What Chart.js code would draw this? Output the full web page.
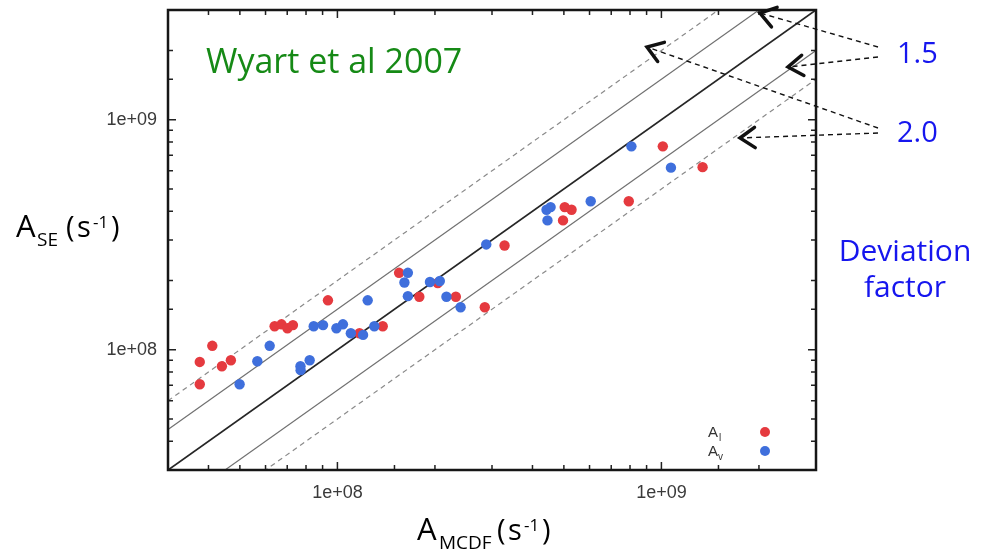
<!DOCTYPE html>
<html>
<head>
<meta charset="utf-8">
<script src="https://cdn.jsdelivr.net/npm/chart.js@4.4.1/dist/chart.umd.min.js"></script>
<style>
  html, body { margin: 0; padding: 0; background: #fff; }
  #wrap { width: 990px; height: 554px; position: relative; }
</style>
</head>
<body>
<div id="wrap"><canvas id="chart"></canvas></div>
<script>
// axis ranges (log scale) and labelled ticks
const xRange = [3e7, 3e9];
const yRange = [3e7, 3e9];
const tickValues = [1e8, 1e9];
const tickLabels = ['1e+08', '1e+09'];

// A_l (red)
const redX = [3.76e7, 4.11e7, 3.76e7, 4.40e7, 4.69e7, 6.40e7, 6.72e7, 7.01e7, 7.29e7, 9.35e7, 1.17e8, 1.38e8,
  1.55e8, 1.79e8, 2.04e8, 2.32e8, 2.85e8, 3.28e8, 5.03e8, 5.28e8, 4.97e8, 7.93e8, 1.01e9, 1.34e9];
const redY = [8.85e7, 1.04e8, 7.08e7, 8.48e7, 9.00e7, 1.265e8, 1.29e8, 1.24e8, 1.28e8, 1.64e8, 1.18e8, 1.265e8,
  2.16e8, 1.70e8, 1.95e8, 1.70e8, 1.53e8, 2.84e8, 4.17e8, 4.06e8, 3.65e8, 4.42e8, 7.66e8, 6.22e8];

// A_v (blue)
const blueX = [4.99e7, 5.66e7, 6.18e7, 7.69e7, 7.70e7, 8.21e7, 8.45e7, 9.03e7, 9.93e7, 1.04e8, 1.10e8, 1.20e8,
  1.24e8, 1.30e8, 1.65e8, 1.61e8, 1.65e8, 1.93e8, 2.07e8, 2.17e8, 2.40e8, 2.88e8, 4.42e8, 4.55e8, 4.45e8,
  6.05e8, 8.08e8, 1.07e9];
const blueY = [7.08e7, 8.91e7, 1.04e8, 8.48e7, 8.15e7, 9.00e7, 1.265e8, 1.28e8, 1.24e8, 1.29e8, 1.18e8, 1.16e8,
  1.64e8, 1.265e8, 2.16e8, 1.96e8, 1.71e8, 1.97e8, 1.99e8, 1.70e8, 1.53e8, 2.87e8, 4.06e8, 4.17e8, 3.65e8,
  4.42e8, 7.66e8, 6.19e8];

// deviation factor lines y = f * x
const factors = [2, 1.5, 1, 1 / 1.5, 0.5];

const RED = '#e53a3f';
const BLUE = '#3f6fdc';
const COMIC = '"Comic Sans MS", "Open Sans", sans-serif';

const zip = (xs, ys) => xs.map((x, i) => ({ x, y: ys[i] }));

const lineSets = factors.map(f => {
  const dashed = f === 2 || f === 0.5;
  const center = f === 1;
  return {
    data: xRange.map(x => ({ x, y: x * f })),
    showLine: true,
    pointRadius: 0,
    borderColor: center ? '#262626' : dashed ? '#8a8a8a' : '#707070',
    borderWidth: center ? 1.8 : 1.2,
    borderDash: dashed ? [5, 4] : [],
    order: 2
  };
});

function isMajor(v) {
  const l = Math.log10(v);
  return Math.abs(l - Math.round(l)) < 1e-6;
}

function tickLabel(v) {
  const i = tickValues.findIndex(t => Math.abs(v / t - 1) < 1e-6);
  return i >= 0 ? tickLabels[i] : '';
}

function arrow(ctx, fx, fy, tx, ty) {
  ctx.save();
  ctx.strokeStyle = '#111';
  ctx.lineWidth = 1.4;
  ctx.setLineDash([5, 4]);
  ctx.beginPath();
  ctx.moveTo(fx, fy);
  ctx.lineTo(tx, ty);
  ctx.stroke();
  ctx.setLineDash([]);
  const a = Math.atan2(fy - ty, fx - tx);
  ctx.lineWidth = 3.5;
  ctx.lineCap = 'round';
  ctx.beginPath();
  ctx.moveTo(tx + 18 * Math.cos(a - 0.6), ty + 18 * Math.sin(a - 0.6));
  ctx.lineTo(tx, ty);
  ctx.lineTo(tx + 18 * Math.cos(a + 0.6), ty + 18 * Math.sin(a + 0.6));
  ctx.stroke();
  ctx.restore();
}

const decor = {
  id: 'decor',
  afterDraw(chart) {
    const { ctx, chartArea: ca, scales } = chart;
    ctx.save();

    // inward ticks on all four sides
    ctx.strokeStyle = '#222';
    ctx.lineWidth = 1.5;
    scales.x.ticks.forEach(t => {
      if (t.value <= xRange[0] || t.value >= xRange[1]) return;
      const px = scales.x.getPixelForValue(t.value);
      const len = isMajor(t.value) ? 8 : 5;
      ctx.beginPath();
      ctx.moveTo(px, ca.bottom); ctx.lineTo(px, ca.bottom - len);
      ctx.moveTo(px, ca.top); ctx.lineTo(px, ca.top + len);
      ctx.stroke();
    });
    scales.y.ticks.forEach(t => {
      if (t.value <= yRange[0] || t.value >= yRange[1]) return;
      const py = scales.y.getPixelForValue(t.value);
      const len = isMajor(t.value) ? 8 : 5;
      ctx.beginPath();
      ctx.moveTo(ca.left, py); ctx.lineTo(ca.left + len, py);
      ctx.moveTo(ca.right, py); ctx.lineTo(ca.right - len, py);
      ctx.stroke();
    });

    // frame
    ctx.strokeStyle = '#161616';
    ctx.lineWidth = 2.5;
    ctx.strokeRect(ca.left, ca.top, ca.right - ca.left, ca.bottom - ca.top);

    // legend inside the plot
    ctx.fillStyle = '#333';
    ctx.textBaseline = 'alphabetic';
    ctx.textAlign = 'left';
    const lx = ca.right - 108, ly = ca.bottom - 33;
    ctx.font = '15px "Liberation Sans", sans-serif';
    ctx.fillText('A', lx, ly);
    ctx.fillText('A', lx, ly + 19);
    ctx.font = '10px "Liberation Sans", sans-serif';
    ctx.fillText('l', lx + 11, ly + 4);
    ctx.fillText('v', lx + 10, ly + 23);
    [[RED, ly - 5], [BLUE, ly + 14]].forEach(([c, y]) => {
      ctx.fillStyle = c;
      ctx.beginPath();
      ctx.arc(ca.right - 51, y, 5, 0, Math.PI * 2);
      ctx.fill();
    });

    // source label
    ctx.fillStyle = '#168a16';
    ctx.font = '34px ' + COMIC;
    ctx.fillText('Wyart et al 2007', 206, 73);

    // deviation factor annotations
    ctx.fillStyle = '#1616ee';
    ctx.font = '29px ' + COMIC;
    ctx.fillText('1.5', 897, 63);
    ctx.fillText('2.0', 897, 142);
    ctx.textAlign = 'center';
    ctx.font = '30px ' + COMIC;
    ctx.fillText('Deviation', 905, 261);
    ctx.fillText('factor', 905, 297);
    ctx.textAlign = 'left';

    arrow(ctx, 878, 47, 760, 13);
    arrow(ctx, 878, 57, 788, 67);
    arrow(ctx, 878, 128, 647, 47);
    arrow(ctx, 878, 133, 740, 138);

    // axis titles with sub/superscripts
    ctx.fillStyle = '#000';
    const title = (x, y, parts) => {
      parts.forEach(([txt, dx, dy, size]) => {
        ctx.font = size + 'px ' + COMIC;
        ctx.fillText(txt, x + dx, y + dy);
      });
    };
    title(16, 237, [['A', 0, 0, 31], ['SE', 21, 9, 19], ['(', 50, 0, 29], ['s', 61, 0, 29], ['-1', 77, -9, 17], [')', 95, 0, 29]]);
    title(417, 540, [['A', 0, 0, 31], ['MCDF', 22, 9, 19], ['(', 80, 0, 29], ['s', 91, 0, 29], ['-1', 107, -9, 17], [')', 125, 0, 29]]);

    ctx.restore();
  }
};

const tickFont = { family: '"Liberation Sans", Arial, sans-serif', size: 18 };

new Chart(document.getElementById('chart'), {
  type: 'scatter',
  data: {
    datasets: [
      { label: 'Av', data: zip(blueX, blueY), backgroundColor: BLUE, borderWidth: 0, pointRadius: 5.2, order: 0 },
      { label: 'Al', data: zip(redX, redY), backgroundColor: RED, borderWidth: 0, pointRadius: 5.2, order: 1 },
      ...lineSets
    ]
  },
  options: {
    responsive: true,
    maintainAspectRatio: false,
    animation: false,
    layout: { padding: { top: 10, right: 174, left: 0, bottom: 0 } },
    plugins: { legend: { display: false }, tooltip: { enabled: false } },
    scales: {
      x: {
        type: 'logarithmic', min: xRange[0], max: xRange[1],
        grid: { display: false, drawTicks: false }, border: { display: false },
        ticks: { callback: tickLabel, autoSkip: false, maxRotation: 0, padding: 12, font: tickFont, color: '#3a3a3a' },
        afterFit: s => { s.height = 84; s.paddingLeft = 0; s.paddingRight = 0; }
      },
      y: {
        type: 'logarithmic', min: yRange[0], max: yRange[1],
        grid: { display: false, drawTicks: false }, border: { display: false },
        ticks: { callback: tickLabel, autoSkip: false, padding: 11, font: tickFont, color: '#3a3a3a' },
        afterFit: s => { s.width = 168; s.paddingTop = 0; s.paddingBottom = 0; }
      }
    }
  },
  plugins: [decor]
});
</script>
</body>
</html>
